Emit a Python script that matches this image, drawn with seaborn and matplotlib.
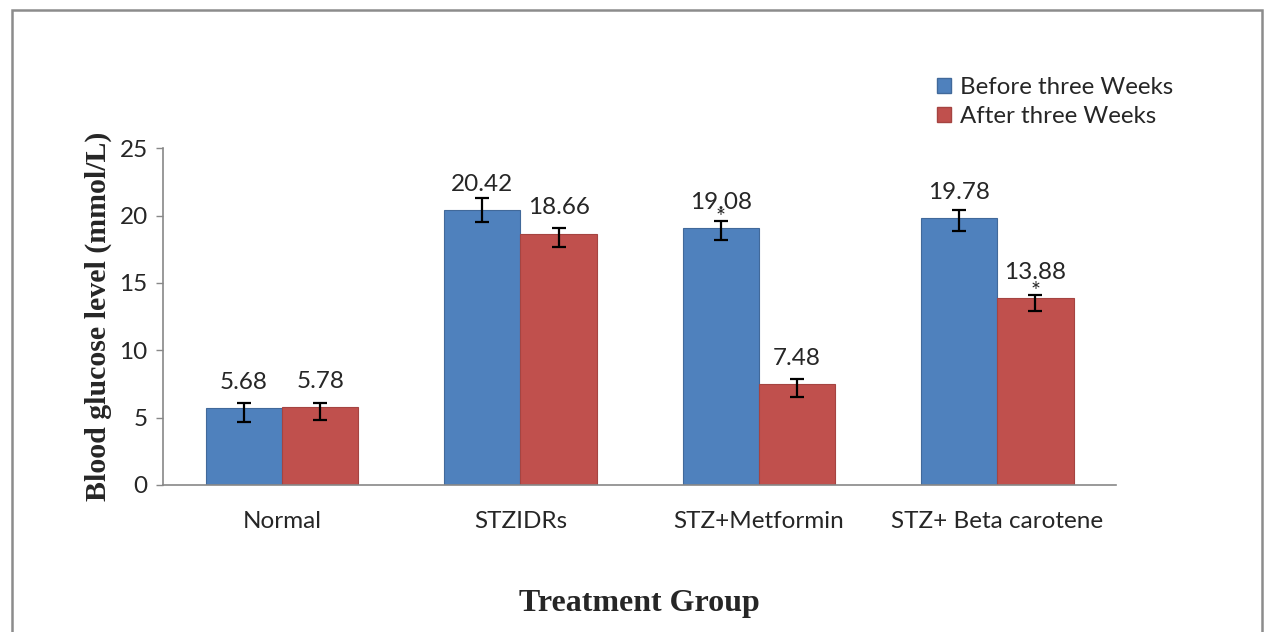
import pandas as pd
import numpy as np
import matplotlib
matplotlib.use('Agg')
import matplotlib.pyplot as plt
from matplotlib.patches import Rectangle
import seaborn as sns

# data
groups = ['Normal', 'STZIDRs', 'STZ+Metformin', 'STZ+ Beta carotene']
series = ['Before three Weeks', 'After three Weeks']
before = [5.68, 20.42, 19.08, 19.78]
after = [5.78, 18.66, 7.48, 13.88]
# error bar ends (low / high) as drawn in the figure
before_lo = [4.67, 19.49, 18.18, 18.87]
before_hi = [6.08, 21.27, 19.58, 20.40]
after_lo = [4.82, 17.68, 6.50, 12.93]
after_hi = [6.06, 19.04, 7.86, 14.10]
# significance marks
before_star = [False, False, True, False]
after_star = [False, False, False, True]

df = pd.DataFrame({
    'group': groups * 2,
    'series': [series[0]] * 4 + [series[1]] * 4,
    'value': before + after,
    'lo': before_lo + after_lo,
    'hi': before_hi + after_hi,
    'star': before_star + after_star,
})

sns.set_theme(style='white')
plt.rcParams['font.family'] = ['Lato', 'DejaVu Sans']

fig = plt.figure(figsize=(12.73, 6.32), dpi=100)
ax = fig.add_axes([0.128, 0.2326, 0.749, 0.533])

palette = {series[0]: '#4F81BD', series[1]: '#C0504D'}
edges = {series[0]: '#41699a', series[1]: '#a54441'}
sns.barplot(data=df, x='group', y='value', hue='series', palette=palette,
            width=0.64, saturation=1, errorbar=None, ax=ax, legend=False,
            linewidth=0.8)

# bars come out series by series, in group order
bars = [p for p in ax.patches if isinstance(p, Rectangle) and p.get_height() > 0]
for bar, (_, row) in zip(bars, df.iterrows()):
    bar.set_edgecolor(edges[row['series']])
    x = bar.get_x() + bar.get_width() / 2
    v = row['value']
    ax.errorbar(x, v, yerr=[[v - row['lo']], [row['hi'] - v]], fmt='none',
                ecolor='black', elinewidth=1.6, capsize=4.7, capthick=1.6)
    ax.annotate(f'{v:.2f}', (x, v), xytext=(0, 11), textcoords='offset points',
                ha='center', va='bottom', fontsize=17.5, color='#262626')
    if row['star']:
        ax.annotate('*', (x, row['hi']), xytext=(0, -5), textcoords='offset points',
                    ha='center', va='bottom', fontsize=17, color='#262626')

ax.set_ylim(0, 25)
ax.set_yticks(range(0, 26, 5))
ax.set_xlim(-0.5, 3.5)
for s in ['top', 'right']:
    ax.spines[s].set_visible(False)
for s in ['left', 'bottom']:
    ax.spines[s].set_color('#888888')
    ax.spines[s].set_linewidth(1.2)
ax.tick_params(axis='y', left=True, length=5, width=1, color='#888888',
               labelsize=17.5, labelcolor='#262626', pad=6)
ax.tick_params(axis='x', bottom=False, labelsize=17.5, labelcolor='#262626', pad=13)

ax.set_xlabel('Treatment Group', fontsize=23, fontweight='bold',
              family='Liberation Serif', labelpad=0)
ax.set_ylabel('Blood glucose level (mmol/L)', fontsize=21.5, fontweight='bold',
              family='Liberation Serif', labelpad=0)
ax.xaxis.set_label_coords(0.5, -0.31)
ax.yaxis.set_label_coords(-0.053, 0.5)

handles = [Rectangle((0, 0), 1, 1, fc=palette[s], ec=edges[s]) for s in series]
fig.legend(handles, series, loc='upper left', bbox_to_anchor=(0.719, 0.912),
           frameon=False, fontsize=17.3, handlelength=0.6, handleheight=0.6,
           handletextpad=0.35, labelspacing=0.32, labelcolor='#262626')

# outer chart frame
fig.add_artist(Rectangle((0.0095, -0.1), 0.982, 1.084, transform=fig.transFigure,
                         fill=False, ec='#8c8c8c', lw=1.8))

fig.savefig('out.png', dpi=100)
